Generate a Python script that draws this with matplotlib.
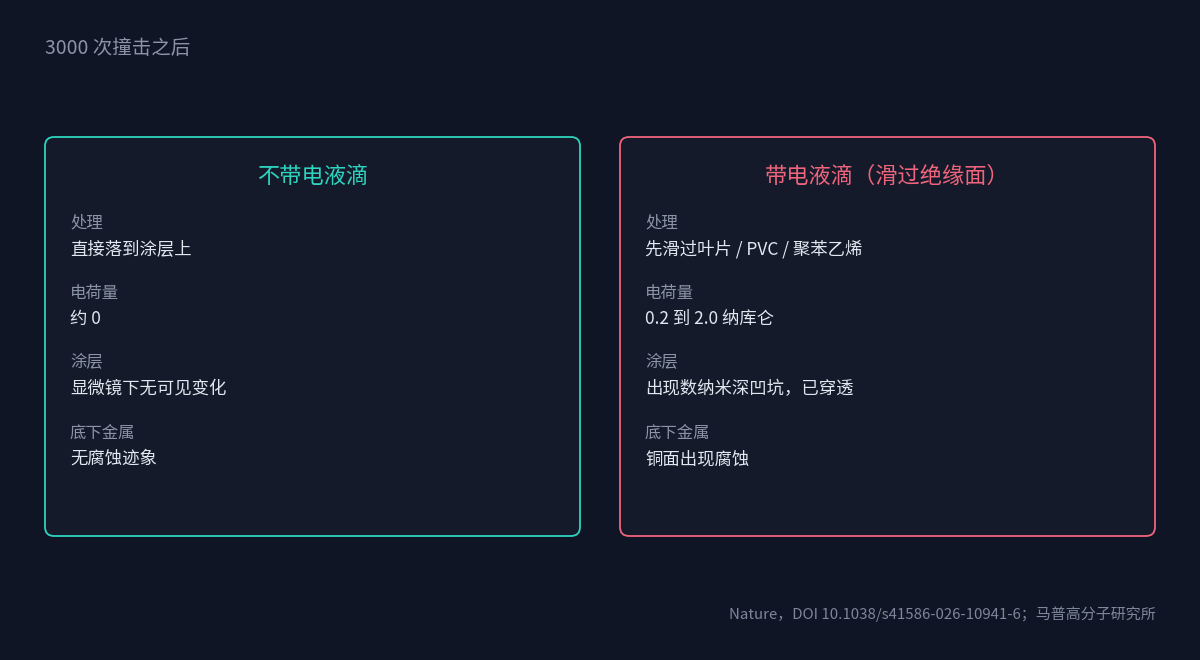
import matplotlib
matplotlib.use('Agg')
import matplotlib.pyplot as plt
from matplotlib.patches import FancyBboxPatch

plt.rcParams['font.family'] = ['Noto Sans CJK SC', 'DejaVu Sans']

# %%
header = '3000 次撞击之后'
footer = 'Nature，DOI 10.1038/s41586-026-10941-6；马普高分子研究所'

card_titles = ['不带电液滴', '带电液滴（滑过绝缘面）']
field_labels = ['处理', '电荷量', '涂层', '底下金属']
left_values = ['直接落到涂层上', '约 0', '显微镜下无可见变化', '无腐蚀迹象']
right_values = ['先滑过叶片 / PVC / 聚苯乙烯', '0.2 到 2.0 纳库仑', '出现数纳米深凹坑，已穿透', '铜面出现腐蚀']

bg = '#0f1524'
card_bg = '#141a2a'
accents = ['#2dd4bf', '#f0647c']
label_col = '#8b94a7'
value_col = '#e2e8f0'

# %%
fig = plt.figure(figsize=(12, 6.6), dpi=100, facecolor=bg)
ax = fig.add_axes([0, 0, 1, 1])
ax.set_xlim(0, 1200)
ax.set_ylim(660, 0)
ax.axis('off')
ax.set_facecolor(bg)

ax.text(45, 48, header, color='#8b94a7', fontsize=14, va='center', ha='left',
        fontweight='light')

card_x = [45, 620]
card_w = 535
card_top, card_h = 137, 399
for i, (title, values) in enumerate(zip(card_titles, [left_values, right_values])):
    x0 = card_x[i]
    box = FancyBboxPatch((x0, card_top), card_w, card_h,
                         boxstyle='round,pad=0,rounding_size=9',
                         facecolor=card_bg, edgecolor=accents[i], linewidth=1.3)
    ax.add_patch(box)
    ax.text(x0 + card_w / 2, 176, title, color=accents[i], fontsize=16,
            ha='center', va='center')
    for j, (lab, val) in enumerate(zip(field_labels, values)):
        y = 223 + 70 * j
        ax.text(x0 + 25, y, lab, color=label_col, fontsize=11.8, ha='left', va='center')
        ax.text(x0 + 25, y + 26, val, color=value_col, fontsize=12.5, ha='left', va='center')

ax.text(1156, 614, footer, color='#7d869a', fontsize=10.8, ha='right', va='center')

fig.savefig('out.png', dpi=100, facecolor=bg)
